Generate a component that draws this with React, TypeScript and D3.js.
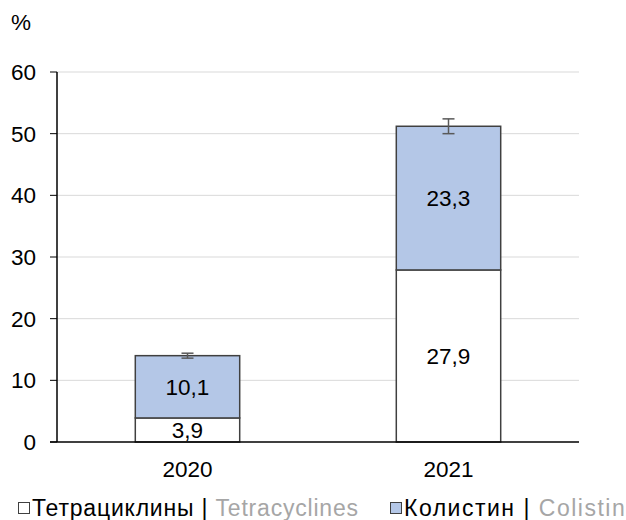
import React from "react";
import * as d3 from "d3";

const categories = ["2020", "2021"];
const tetracyclines = [3.9, 27.9];
const colistin = [10.1, 23.3];
const errors = [0.4, 1.2];
const yTicks = [0, 10, 20, 30, 40, 50, 60];
const labelsTetra = ["3,9", "27,9"];
const labelsColistin = ["10,1", "23,3"];

const W = 626;
const H = 520;
const left = 57;
const right = 579;
const top = 72;
const bottom = 442;
const FONT = "'Liberation Sans', Arial, sans-serif";
const FS = 22.5;

export default function App() {
  const x = d3.scaleBand<string>().domain(categories).range([left, right]).paddingInner(0.6).paddingOuter(0.3);
  const y = d3.scaleLinear().domain([0, 60]).range([bottom, top]);
  const bw = x.bandwidth();

  return (
    <svg width={W} height={H} style={{ position: "absolute", left: 0, top: 0, fontFamily: FONT }}>
      <text x={11} y={30} fontSize={FS} fill="#000">%</text>
      {yTicks.map((t) => (
        <g key={t}>
          {t > 0 && <line x1={left} x2={right} y1={y(t)} y2={y(t)} stroke="#d9d9d9" strokeWidth={1} />}
          <line x1={50} x2={left} y1={y(t)} y2={y(t)} stroke="#000" strokeWidth={1} />
          <text x={36} y={y(t)} dy="0.35em" textAnchor="end" fontSize={FS} fill="#000">{t}</text>
        </g>
      ))}
      {categories.map((c, i) => {
        const x0 = x(c)!;
        const cx = x0 + bw / 2;
        const t = tetracyclines[i];
        const tot = t + colistin[i];
        return (
          <g key={c}>
            <rect x={x0} y={y(t)} width={bw} height={y(0) - y(t)} fill="#fff" stroke="#404040" strokeWidth={1.5} />
            <rect x={x0} y={y(tot)} width={bw} height={y(t) - y(tot)} fill="#b4c7e7" stroke="#404040" strokeWidth={1.5} />
            <text x={cx} y={(y(0) + y(t)) / 2} dy="0.35em" textAnchor="middle" fontSize={FS} fill="#000">{labelsTetra[i]}</text>
            <text x={cx} y={(y(t) + y(tot)) / 2} dy="0.35em" textAnchor="middle" fontSize={FS} fill="#000">{labelsColistin[i]}</text>
            <g stroke="#595959" strokeWidth={1.5}>
              <line x1={cx} x2={cx} y1={y(tot + errors[i])} y2={y(tot - errors[i])} />
              <line x1={cx - 6} x2={cx + 6} y1={y(tot + errors[i])} y2={y(tot + errors[i])} />
              <line x1={cx - 6} x2={cx + 6} y1={y(tot - errors[i])} y2={y(tot - errors[i])} />
            </g>
            <text x={cx} y={477} textAnchor="middle" fontSize={FS} fill="#000">{c}</text>
          </g>
        );
      })}
      <line x1={left} x2={left} y1={top} y2={bottom} stroke="#000" strokeWidth={1.5} />
      <line x1={50} x2={right} y1={bottom} y2={bottom} stroke="#000" strokeWidth={1.5} />
      <g fontSize={23}>
        <rect x={18.5} y={502.5} width={11} height={11} fill="#fff" stroke="#404040" strokeWidth={1} />
        <text x={32} y={516} letterSpacing={0.8}>
          <tspan fill="#000">Тетрациклины | </tspan>
          <tspan fill="#a6a6a6">Tetracyclines</tspan>
        </text>
        <rect x={390.5} y={502.5} width={11} height={11} fill="#b4c7e7" stroke="#404040" strokeWidth={1} />
        <text x={404} y={516} letterSpacing={1.5}>
          <tspan fill="#000">Колистин | </tspan>
          <tspan fill="#a6a6a6">Colistin</tspan>
        </text>
      </g>
    </svg>
  );
}
